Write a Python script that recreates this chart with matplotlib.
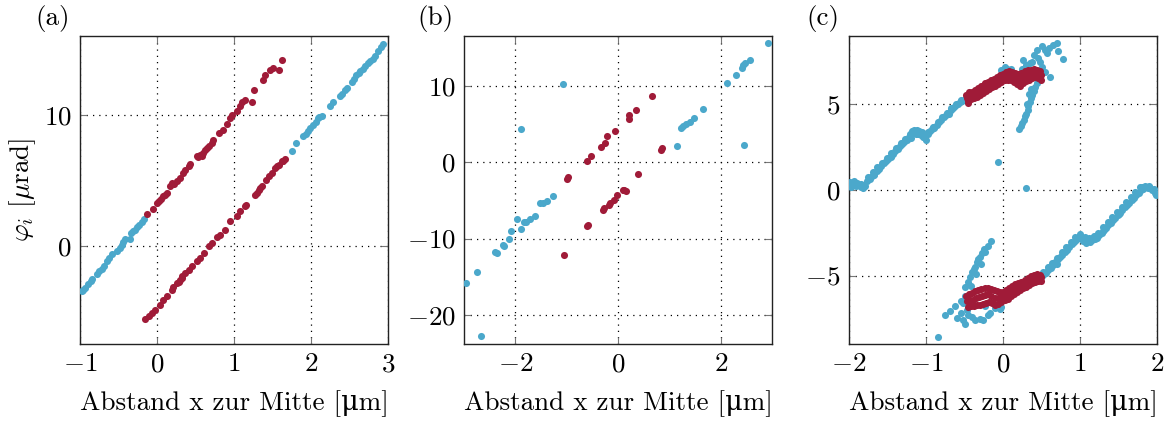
import matplotlib
matplotlib.use('Agg')
import matplotlib.pyplot as plt

# colours of the two point groups
BLUE = '#4ba8cb'
RED = '#a01b38'

# ---------------- panel (a) ----------------
a_blue_x = [-0.98, -0.94, -0.89, -0.84, -0.78, -0.72, -0.69, -0.65, -0.58,
            -0.48, -0.46, -0.41, -0.35, -0.34, -0.29, -0.24, -0.20, -0.17,
            -0.96, -0.86, -0.75, -0.62, -0.52, -0.44, -0.31, -0.26,
            1.75, 1.81, 1.90, 1.96, 2.03, 2.09, 2.14, 2.25, 2.29, 2.38, 2.44,
            2.53, 2.59, 2.64, 2.70, 2.77, 2.83, 2.87, 2.94,
            1.93, 1.99, 2.06, 2.11, 2.40, 2.47, 2.56, 2.62, 2.67, 2.74, 2.80, 2.91]
a_blue_y = [-3.49, -3.20, -2.90, -2.55, -2.16, -1.78, -1.53, -1.20, -0.64,
            -0.18, 0.08, 0.51, 0.51, 0.97, 1.22, 1.60, 1.78, 2.03,
            -3.35, -2.70, -1.95, -0.95, -0.40, 0.25, 1.10, 1.45,
            7.20, 7.84, 8.35, 8.73, 9.24, 9.75, 9.92, 10.69, 11.00, 11.40, 11.90,
            12.50, 13.05, 13.30, 13.70, 14.07, 14.45, 14.83, 15.40,
            8.55, 8.95, 9.45, 9.85, 11.55, 12.05, 12.75, 13.15, 13.45, 13.95, 14.25, 15.15]

a_red_x = [-0.13, -0.05, 0.00, 0.03, 0.08, 0.13, 0.17, 0.20, 0.26, 0.30,
           0.34, 0.36, 0.41, 0.43, 0.52, 0.56, 0.60, 0.65, 0.67, 0.71,
           0.73, 0.80, 0.86, 0.91, 0.95, 0.98, 1.04, 1.08, 1.11, 1.14,
           1.23, 1.26, 1.38, 1.40, 1.47, 1.51, 1.58, 1.62,
           0.05, 0.10, 0.22, 0.53, 0.58, 0.62,
           -0.15, -0.11, -0.07, -0.03, 0.04, 0.08, 0.13, 0.19, 0.21, 0.26,
           0.30, 0.33, 0.36, 0.41, 0.45, 0.52, 0.56, 0.61, 0.68, 0.71,
           0.78, 0.82, 0.88, 0.95, 1.04, 1.08, 1.14, 1.16, 1.27, 1.32,
           1.36, 1.42, 1.49, 1.53, 1.58, 1.62, 1.66,
           0.28, 0.32, 1.30, 1.34, 1.45, 1.56, 1.64]
a_red_y = [2.42, 2.80, 3.26, 3.38, 3.76, 4.02, 4.53, 4.79, 4.91, 5.17,
           5.55, 5.80, 6.05, 6.26, 6.82, 6.95, 7.07, 7.46, 7.58, 7.84,
           8.09, 8.60, 8.85, 9.31, 9.75, 10.00, 10.25, 10.63, 11.00, 11.15,
           11.00, 11.90, 12.67, 13.05, 13.40, 13.56, 13.40, 14.20,
           3.55, 3.90, 4.70, 6.75, 6.85, 7.30,
           -5.60, -5.39, -5.14, -4.94, -4.50, -4.12, -3.87, -3.36, -3.16, -2.85,
           -2.60, -2.34, -2.09, -1.83, -1.58, -1.20, -0.94, -0.56, -0.05, 0.21,
           0.66, 0.84, 1.22, 1.85, 2.24, 2.62, 3.00, 3.13, 3.89, 4.27,
           4.53, 5.04, 5.55, 5.93, 6.18, 6.44, 6.62,
           -2.75, -2.45, 4.05, 4.40, 5.30, 6.05, 6.50]

# ---------------- panel (b) ----------------
b_blue_x = [2.93, 2.57, 2.48, 2.44, 2.41, 2.29, 2.12, -1.08, -1.89, 1.65,
            1.49, 1.40, 1.32, 1.27, 1.23, 1.14, 2.46, -1.27, -1.39, -1.47,
            -1.52, -1.62, -1.72, -1.79, -1.83, -1.96, -1.89, -2.09, -2.13,
            -2.22, -2.24, -2.36, -2.40, -2.75, -2.96, -2.66]
b_blue_y = [15.6, 13.35, 13.0, 12.7, 12.3, 11.4, 10.4, 10.2, 4.3, 6.9,
            5.8, 5.3, 5.0, 4.7, 4.4, 2.1, 2.3, -4.4, -5.1, -5.3,
            -5.3, -7.0, -7.5, -7.9, -7.8, -7.4, -8.8, -9.0, -10.1,
            -10.95, -10.85, -11.95, -11.8, -14.35, -15.8, -22.7]

b_red_x = [0.66, 0.36, 0.21, 0.22, -0.06, -0.22, -0.26, -0.34, -0.52, -0.60,
           -0.97, -1.00, 0.38, 0.86, 0.84, 0.15, 0.09, 0.12, -0.01, -0.08,
           -0.16, -0.17, -0.27, -0.29, -0.58, -0.61, -1.05]
b_red_y = [8.6, 6.8, 6.1, 5.7, 4.1, 3.4, 2.45, 2.0, 0.75, 0.1,
           -1.9, -2.2, -1.6, 1.8, 1.6, -3.75, -3.6, -3.7, -4.3, -5.0,
           -5.3, -5.55, -6.05, -6.3, -8.25, -8.3, -12.1]

# ---------------- panel (c) ----------------
c_blue_x = [
    # upper left band
    -2.00, -1.97, -1.94, -1.91, -1.88, -1.85, -1.82, -1.79, -1.76, -1.73,
    -1.70, -1.67, -1.64, -1.61, -1.58, -1.55, -1.52, -1.49, -1.46, -1.43,
    -1.40, -1.37, -1.34, -1.31, -1.28, -1.25, -1.22, -1.19, -1.16, -1.13,
    -1.10, -1.07, -1.04, -1.01, -0.98, -0.95, -0.92, -0.89, -0.86, -0.83,
    -0.80, -0.77, -0.74, -0.71, -0.68, -0.65, -0.62, -0.59, -0.56, -0.53,
    -0.50, -1.98, -1.90, -1.85, -1.18, -1.12, -1.05, -1.00, -1.68, -1.45,
    -1.20, -0.90, -0.70,
    -1.99, -1.93, -1.87, -1.81, -1.75, -1.69, -1.63, -1.57, -1.51, -1.45,
    -1.39, -1.33, -1.27, -1.21, -1.15, -1.09, -1.03, -0.97, -0.91, -0.85,
    -0.79, -0.73, -0.67, -0.61, -0.55,
    # lower right band
    0.50, 0.53, 0.56, 0.59, 0.62, 0.65, 0.68, 0.71, 0.74, 0.77,
    0.80, 0.83, 0.86, 0.89, 0.92, 0.95, 0.98, 1.01, 1.04, 1.07,
    1.10, 1.13, 1.16, 1.19, 1.22, 1.25, 1.28, 1.31, 1.34, 1.37,
    1.40, 1.43, 1.46, 1.49, 1.52, 1.55, 1.58, 1.61, 1.64, 1.67,
    1.70, 1.73, 1.76, 1.79, 1.82, 1.85, 1.88, 1.91, 1.94, 1.97,
    1.99, 1.03, 1.08, 1.15, 1.50, 1.80, 1.90, 0.70, 1.30,
    0.52, 0.58, 0.64, 0.70, 0.76, 0.82, 0.88, 0.94, 1.00, 1.06,
    1.12, 1.18, 1.24, 1.30, 1.36, 1.42, 1.48, 1.54, 1.60, 1.66,
    1.72, 1.78, 1.84, 1.90, 1.96,
    # cloud above the upper red band
    -0.02, 0.02, 0.05, 0.10, 0.25, 0.30, 0.35, 0.40, 0.44, 0.50,
    0.55, 0.57, 0.60, 0.65, 0.70, 0.72, 0.78, 0.61, 0.55, 0.50,
    0.48, 0.26, 0.45, 0.38,
    # streak going down
    0.44, 0.42, 0.40, 0.38, 0.37, 0.35, 0.33, 0.32, 0.30, 0.29,
    0.27, 0.25, 0.23, 0.21, 0.36, 0.34, 0.31,
    # single points
    -0.06, 0.30,
    # streak going up near the lower red band
    -0.49, -0.46, -0.43, -0.40, -0.38, -0.36, -0.34, -0.32, -0.30, -0.27,
    -0.23, -0.20, -0.16, -0.42, -0.35, -0.28, -0.25,
    # cloud below the lower red band
    -0.84, -0.75, -0.69, -0.62, -0.60, -0.55, -0.52, -0.49, -0.45, -0.40,
    -0.36, -0.30, -0.26, -0.20, -0.17, -0.10, -0.04, -0.50, -0.52, -0.47,
    -0.55, -0.23, -0.02]
c_blue_y = [
    0.30, 0.38, 0.42, 0.25, 0.35, 0.15, 0.10, 0.22, 0.50, 0.62,
    0.80, 0.95, 1.12, 1.25, 1.40, 1.55, 1.68, 1.82, 1.98, 2.10,
    2.25, 2.40, 2.55, 2.70, 2.82, 2.95, 3.10, 3.25, 3.35, 3.30,
    3.28, 3.20, 3.10, 3.05, 3.25, 3.42, 3.55, 3.70, 3.82, 3.98,
    4.10, 4.25, 4.38, 4.52, 4.65, 4.80, 4.92, 5.05, 5.15, 5.22,
    5.30, 0.15, 0.42, 0.35, 3.45, 3.50, 3.40, 2.95, 0.85, 1.90,
    3.05, 3.60, 4.45,
    0.45, 0.55, 0.30, 0.28, 0.75, 1.05, 1.32, 1.60, 1.88, 2.15,
    2.45, 2.72, 2.98, 3.28, 3.52, 3.45, 3.30, 3.38, 3.70, 3.98,
    4.25, 4.52, 4.80, 5.02, 5.25,
    -5.05, -4.92, -4.85, -4.70, -4.55, -4.40, -4.22, -4.05, -3.92, -3.78,
    -3.62, -3.48, -3.35, -3.18, -3.05, -2.90, -2.78, -2.72, -3.00, -2.95,
    -2.92, -3.05, -2.95, -2.88, -2.78, -2.65, -2.50, -2.35, -2.20, -2.05,
    -1.92, -1.78, -1.62, -1.48, -1.32, -1.18, -1.02, -0.88, -0.74, -0.58,
    -0.45, -0.30, -0.15, 0.00, 0.08, 0.15, 0.12, 0.10, 0.02, -0.20,
    -0.30, -2.85, -3.10, -2.80, -1.40, 0.15, 0.20, -4.30, -2.40,
    -4.80, -4.52, -4.25, -3.95, -3.65, -3.35, -3.05, -2.75, -2.55, -2.75,
    -2.80, -2.70, -2.50, -2.18, -1.88, -1.58, -1.30, -1.00, -0.70, -0.40,
    -0.10, 0.20, 0.25, 0.22, 0.05,
    7.00, 7.20, 7.05, 7.10, 7.10, 7.30, 7.40, 7.90, 8.20, 8.40,
    8.20, 8.00, 8.30, 8.50, 8.60, 8.10, 7.65, 6.60, 6.90, 7.20,
    7.50, 7.60, 7.70, 7.50,
    6.25, 6.00, 5.80, 5.55, 5.40, 5.15, 4.90, 4.70, 4.45, 4.30,
    4.10, 3.90, 3.75, 3.55, 5.90, 5.60, 5.00,
    1.62, 0.14,
    -5.65, -5.35, -5.07, -4.80, -4.60, -4.48, -4.20, -4.05, -3.90, -3.70,
    -3.61, -3.30, -2.96, -5.60, -4.90, -4.30, -3.45,
    -8.62, -7.31, -7.10, -6.80, -7.50, -7.20, -7.60, -7.85, -7.30, -7.45,
    -7.60, -7.55, -7.60, -7.30, -7.20, -6.90, -6.95, -6.20, -6.60, -7.00,
    -6.50, -6.80, -6.82]

c_red_x = [
    # upper band
    -0.48, -0.44, -0.40, -0.36, -0.32, -0.28, -0.24, -0.20, -0.16, -0.12,
    -0.08, -0.04, 0.00, 0.04, 0.08, 0.12, 0.16, 0.20, 0.24, 0.28,
    0.32, 0.36, 0.40, 0.44, 0.48,
    -0.46, -0.42, -0.38, -0.34, -0.30, -0.26, -0.22, -0.18, -0.14, -0.10,
    -0.06, -0.02, 0.02, 0.06, 0.10, 0.14, 0.18, 0.22, 0.26, 0.30,
    0.34, 0.38, 0.42, 0.46, 0.49, -0.23, -0.45,
    -0.47, -0.43, -0.39, -0.35, -0.31, -0.27, -0.23, -0.19, -0.15, -0.11,
    -0.07, -0.03, 0.01, 0.05, 0.09, 0.13, 0.17, 0.21, 0.25, 0.29,
    0.33, 0.37, 0.41, 0.45, 0.49,
    # lower band
    -0.48, -0.44, -0.40, -0.36, -0.32, -0.28, -0.24, -0.20, -0.16, -0.12,
    -0.08, -0.04, 0.00, 0.04, 0.08, 0.12, 0.16, 0.20, 0.24, 0.28,
    0.32, 0.36, 0.40, 0.44, 0.48,
    -0.46, -0.42, -0.38, -0.34, -0.30, -0.26, -0.22, -0.18, -0.14, -0.10,
    -0.06, -0.02, 0.02, 0.06, 0.10, 0.14, 0.18, 0.22, 0.26, 0.30,
    0.34, 0.38, 0.42, 0.46, 0.49,
    -0.47, -0.43, -0.39, -0.35, -0.31, -0.27, -0.23, -0.19, -0.15, -0.11,
    -0.07, -0.03, 0.01, 0.05, 0.09, 0.13, 0.17, 0.21, 0.25, 0.29,
    0.33, 0.37, 0.41, 0.45, 0.49]
c_red_y = [
    5.55, 5.70, 5.75, 5.85, 5.95, 6.05, 6.20, 6.30, 6.40, 6.50,
    6.60, 6.70, 6.80, 6.90, 6.95, 6.90, 6.85, 6.75, 6.85, 6.95,
    7.00, 7.00, 7.05, 7.00, 6.95,
    5.20, 5.30, 5.35, 5.45, 5.55, 5.65, 5.80, 5.90, 6.00, 6.10,
    6.20, 6.30, 6.40, 6.45, 6.40, 6.30, 6.20, 6.10, 6.25, 6.35,
    6.45, 6.55, 6.60, 6.55, 6.45, 6.25, 5.10,
    5.38, 5.50, 5.55, 5.65, 5.75, 5.85, 6.00, 6.10, 6.20, 6.30,
    6.40, 6.50, 6.60, 6.68, 6.68, 6.60, 6.52, 6.42, 6.55, 6.65,
    6.72, 6.78, 6.82, 6.78, 6.70,
    -6.20, -6.10, -6.00, -5.90, -5.85, -5.80, -5.75, -5.70, -5.80, -5.85,
    -5.90, -5.95, -5.95, -5.85, -5.75, -5.60, -5.50, -5.45, -5.35, -5.25,
    -5.15, -5.05, -4.95, -4.90, -4.95,
    -6.85, -6.80, -6.75, -6.70, -6.70, -6.65, -6.60, -6.55, -6.60, -6.70,
    -6.65, -6.55, -6.45, -6.35, -6.20, -6.10, -5.95, -5.85, -5.75, -5.65,
    -5.55, -5.45, -5.35, -5.30, -5.30,
    -6.50, -6.45, -6.40, -6.30, -6.25, -6.20, -6.15, -6.10, -6.20, -6.30,
    -6.30, -6.25, -6.20, -6.10, -6.00, -5.85, -5.75, -5.65, -5.55, -5.45,
    -5.35, -5.25, -5.15, -5.10, -5.10]

panels = [
    ('(a)', a_blue_x, a_blue_y, a_red_x, a_red_y, (-1, 3), (-7.5, 16.0),
     [-1, 0, 1, 2, 3], [0, 10]),
    ('(b)', b_blue_x, b_blue_y, b_red_x, b_red_y, (-3, 3), (-23.8, 16.5),
     [-2, 0, 2], [-20, -10, 0, 10]),
    ('(c)', c_blue_x, c_blue_y, c_red_x, c_red_y, (-2, 2), (-9, 9),
     [-2, -1, 0, 1, 2], [-5, 0, 5]),
]

plt.rcParams['font.family'] = ['cmr10', 'DejaVu Serif']
plt.rcParams['mathtext.fontset'] = 'cm'
plt.rcParams['axes.formatter.use_mathtext'] = True
plt.rcParams['font.size'] = 19.5

fig = plt.figure(figsize=(11.69, 4.21), dpi=100)
lefts = [80, 464, 849]
tags_x = [53, 435, 823]

for i, (tag, bx, by, rx, ry, xl, yl, xt, yt) in enumerate(panels):
    ax = fig.add_axes([lefts[i] / 1169, 1 - 344 / 421, 308 / 1169, 308 / 421])
    ax.scatter(bx, by, s=26, c=BLUE, linewidths=0, zorder=3)
    ax.scatter(rx, ry, s=26, c=RED, linewidths=0, zorder=4)
    ax.set_xlim(*xl)
    ax.set_ylim(*yl)
    ax.set_xticks(xt)
    ax.set_yticks(yt)
    ax.grid(True, linestyle=(0, (1, 4)), color='black', linewidth=0.9)
    ax.set_axisbelow(True)
    ax.tick_params(direction='in', top=True, right=True, length=5,
                   color='#777777', width=0.8, pad=6)
    for sp in ax.spines.values():
        sp.set_color('#222222')
        sp.set_linewidth(1.0)
    ax.set_xlabel('Abstand x zur Mitte [\u03bcm]', labelpad=10)
    if i == 0:
        # mathtext cannot borrow the mu from another family, so it is set in math
        ax.set_ylabel(r'$\varphi_i$ [$\mu$rad]', labelpad=4)
    fig.text(tags_x[i] / 1169, 1 - 18 / 421, tag, ha='center', va='center')

fig.savefig('out.png', dpi=100)
